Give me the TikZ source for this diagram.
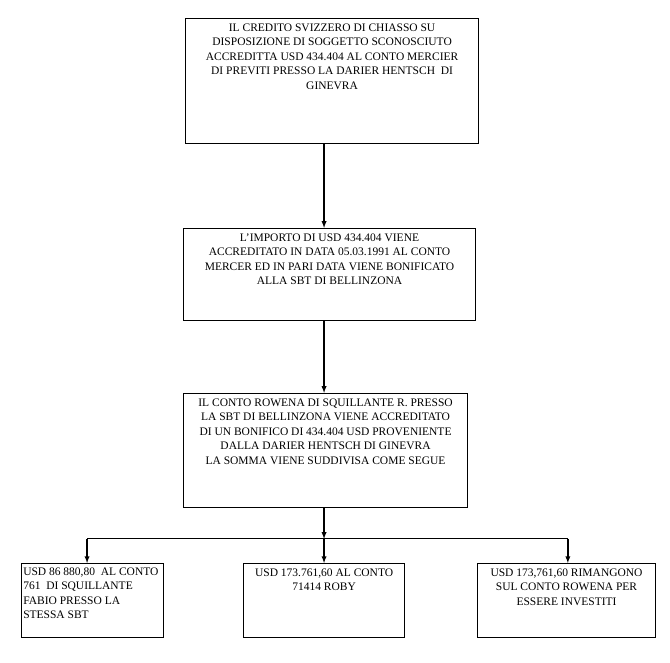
\documentclass[tikz,border=0pt]{standalone}
\usepackage{fontspec}
\setmainfont{Liberation Serif}
\tikzset{every label/.append style={font=\fontsize{11.5}{14.5}\selectfont, align=center, inner sep=3pt, yshift=-2.5pt}}
\tikzset{
    riquadro/.style={draw, rectangle, anchor=north west, line width=1.3pt, inner sep=0pt},
    freccia/.style={-latex, line width=1.3pt}
}

\begin{document}
\begin{tikzpicture}
	\useasboundingbox (0cm, 0cm) rectangle (23.55cm, -23.27cm);
	\node (1) [riquadro, minimum width=10.30cm, minimum height=4.39cm,
		label={[anchor=north]north:{IL CREDITO SVIZZERO DI CHIASSO SU\\DISPOSIZIONE DI SOGGETTO SCONOSCIUTO\\ACCREDITTA USD 434.404 AL CONTO MERCIER\\DI PREVITI PRESSO LA DARIER HENTSCH~ DI\\GINEVRA}}] at (6.50cm, -0.63cm) {};
	\node (2) [riquadro, minimum width=10.26cm, minimum height=3.23cm,
		label={[anchor=north]north:{L'IMPORTO DI USD 434.404 VIENE\\ACCREDITATO IN DATA 05.03.1991 AL CONTO\\MERCER ED IN PARI DATA VIENE BONIFICATO\\ALLA SBT DI BELLINZONA}}] at (6.43cm, -8.01cm) {};
	\node (3) [riquadro, minimum width=9.98cm, minimum height=4.01cm,
		label={[anchor=north]north:{IL CONTO ROWENA DI SQUILLANTE R. PRESSO\\LA SBT DI BELLINZONA VIENE ACCREDITATO\\DI UN BONIFICO DI 434.404 USD PROVENIENTE\\DALLA DARIER HENTSCH DI GINEVRA\\LA SOMMA VIENE SUDDIVISA COME SEGUE}}] at (6.43cm, -13.81cm) {};
	\node (4) [riquadro, minimum width=4.99cm, minimum height=2.60cm,
		label={[anchor=north west, align=left, inner sep=2pt]north west:{USD 86 880,80~ AL CONTO\\761~ DI SQUILLANTE\\FABIO PRESSO LA\\STESSA SBT}}] at (0.74cm, -19.79cm) {};
	\node (5) [riquadro, minimum width=5.66cm, minimum height=2.60cm,
		label={[anchor=north]north:{USD 173.761,60 AL CONTO\\71414 ROBY}}] at (8.54cm, -19.79cm) {};
	\node (6) [riquadro, minimum width=6.26cm, minimum height=2.60cm,
		label={[anchor=north]north:{USD 173,761,60 RIMANGONO\\SUL CONTO ROWENA PER\\ESSERE INVESTITI}}] at (16.76cm, -19.79cm) {};

	\coordinate (7) at (11.39cm, -18.94cm);
	\coordinate (8) at (3.06cm, -18.94cm);
	\coordinate (9) at (19.96cm, -18.94cm);

	\draw[freccia] (1.south -| 7) -- (2.north -| 7);
	\draw[freccia] (2.south -| 7) -- (3.north -| 7);
	\draw[freccia] (3.south -| 7) -- (7);
	\draw[freccia] (7) -- (5.north -| 7);
	\draw[line width=1.3pt] (8) -- (9);
	\draw[freccia] (8) -- (4.north -| 8);
	\draw[freccia] (9) -- (6.north -| 9);
\end{tikzpicture}
\end{document}
